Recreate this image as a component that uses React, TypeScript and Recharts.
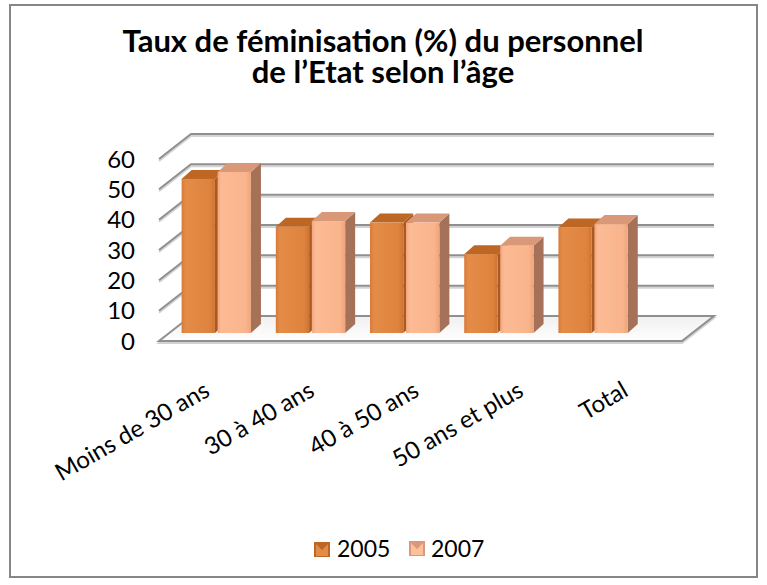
import React from 'react';
import { BarChart, Bar, XAxis, YAxis, CartesianGrid } from 'recharts';

const categories = ['Moins de 30 ans', '30 à 40 ans', '40 à 50 ans', '50 ans et plus', 'Total'];
const values2005 = [50.8, 35.0, 36.4, 26.0, 34.8];
const values2007 = [53.1, 36.9, 36.4, 28.8, 35.9];
const yTicks = [0, 10, 20, 30, 40, 50, 60];
const seriesNames = ['2005', '2007'];

const data = categories.map((cat, i) => ({
  cat,
  y2005: values2005[i],
  y2007: values2007[i],
}));

// layout of the "front plane" of the 3D box
const W = 767;
const H = 585;
const PLOT_LEFT = 159;
const PLOT_TOP = 159;
const PLOT_RIGHT = 682;
const PLOT_BOTTOM = 341;
const Y_AXIS_W = 40;
const X_AXIS_H = 30;

// depth offsets
const WALL_DX = 32;
const WALL_DY = -25;
const BAR_DX = 10;
const BAR_DY = -8;
const TOP_DX = 10;
const TOP_DY = -9;
const SQUEEZE = 0.9006;

const FONT = 'Lato, "Open Sans", sans-serif';

const colors = {
  y2005: { front: '#DE833E', light: '#E38C48', top: '#BE6624', side: '#A85A22' },
  y2007: { front: '#F9B48B', light: '#FCC09C', top: '#D99877', side: '#A57159' },
};

function makeShape(key: 'y2005' | 'y2007') {
  const c = colors[key];
  return (props: any) => {
    const { x, y, width, height } = props;
    if (width == null || height == null) return <g />;
    const fx = PLOT_LEFT + (x - PLOT_LEFT) * SQUEEZE + BAR_DX;
    const fw = width * SQUEEZE;
    const top = y + BAR_DY;
    const bottom = y + height + BAR_DY;
    return (
      <g>
        <polygon
          points={`${fx + fw},${top} ${fx + fw + TOP_DX},${top + TOP_DY} ${fx + fw + TOP_DX},${bottom + TOP_DY} ${fx + fw},${bottom}`}
          fill={c.side}
        />
        <polygon
          points={`${fx},${top} ${fx + fw},${top} ${fx + fw + TOP_DX},${top + TOP_DY} ${fx + TOP_DX},${top + TOP_DY}`}
          fill={c.top}
        />
        <rect x={fx} y={top} width={fw} height={bottom - top} fill={`url(#grad-${key})`} />
      </g>
    );
  };
}

function GridLine(p: any) {
  const { x1, y1, x2, y, height, index } = p;
  const isFloor = Math.abs(y1 - (y + height)) < 1;
  if (isFloor) {
    return (
      <g key={`g-${index}`}>
        <polygon
          points={`${x1},${y1 + 2} ${x2},${y1 + 2} ${x2 + WALL_DX},${y1 + WALL_DY + 2} ${x1 + WALL_DX},${y1 + WALL_DY + 2}`}
          fill="none"
          stroke="#d2d2d2"
          strokeWidth={2}
        />
        <polygon
          points={`${x1},${y1} ${x2},${y1} ${x2 + WALL_DX},${y1 + WALL_DY} ${x1 + WALL_DX},${y1 + WALL_DY}`}
          fill="url(#floorGrad)"
          stroke="#8f8f8f"
          strokeWidth={2}
        />
      </g>
    );
  }
  const path = `M${x1},${y1} L${x1 + WALL_DX},${y1 + WALL_DY} L${x2 + WALL_DX},${y1 + WALL_DY}`;
  return (
    <g key={`g-${index}`}>
      <path d={path} transform="translate(0,2)" fill="none" stroke="#d4d4d4" strokeWidth={2} />
      <path d={path} fill="none" stroke="#8f8f8f" strokeWidth={2} />
    </g>
  );
}

function CategoryTick(props: any) {
  const { x, payload } = props;
  const tx = x;
  const ty = PLOT_BOTTOM + 54;
  return (
    <text
      x={tx}
      y={ty}
      transform={`rotate(-30, ${tx}, ${ty})`}
      textAnchor="end"
      fontFamily={FONT}
      fontSize={24}
      fill="#000"
    >
      {payload.value}
    </text>
  );
}

function LegendIcon({ x, y, c }: { x: number; y: number; c: typeof colors.y2005 }) {
  return (
    <g>
      <rect x={x} y={y} width={16} height={15} fill={c.top} />
      <polygon points={`${x + 2},${y + 2} ${x + 8},${y + 8} ${x + 14},${y + 2} ${x + 14},${y + 14} ${x + 2},${y + 14}`} fill={c.light} />
    </g>
  );
}

export default function App() {
  return (
    <div style={{ position: 'absolute', left: 0, top: 0, width: W, height: H, background: '#fff' }}>
      <BarChart
        width={W}
        height={H}
        data={data}
        barSize={37}
        barGap={3}
        margin={{
          top: PLOT_TOP,
          right: W - PLOT_RIGHT,
          bottom: H - PLOT_BOTTOM - X_AXIS_H,
          left: PLOT_LEFT - Y_AXIS_W,
        }}
      >
        <defs>
          <linearGradient id="grad-y2005" x1="0" y1="0" x2="1" y2="0">
            <stop offset="0%" stopColor="#D9793A" />
            <stop offset="12%" stopColor="#E38C48" />
            <stop offset="85%" stopColor="#DE833E" />
            <stop offset="100%" stopColor="#CF7334" />
          </linearGradient>
          <linearGradient id="grad-y2007" x1="0" y1="0" x2="1" y2="0">
            <stop offset="0%" stopColor="#F2A880" />
            <stop offset="12%" stopColor="#FCBB95" />
            <stop offset="85%" stopColor="#F9B48B" />
            <stop offset="100%" stopColor="#EDA47D" />
          </linearGradient>
          <linearGradient id="floorGrad" x1="0" y1="1" x2="0" y2="0">
            <stop offset="0%" stopColor="#ffffff" />
            <stop offset="100%" stopColor="#f0f0f0" />
          </linearGradient>
        </defs>
        <CartesianGrid vertical={false} horizontal={GridLine as any} />
        <XAxis
          dataKey="cat"
          height={X_AXIS_H}
          tickLine={false}
          axisLine={false}
          interval={0}
          tick={<CategoryTick />}
        />
        <YAxis
          width={Y_AXIS_W}
          domain={[0, 60]}
          ticks={yTicks}
          interval={0}
          tickLine={false}
          axisLine={false}
          tickSize={0}
          tickMargin={24}
          tick={{ fontFamily: FONT, fontSize: 24, fill: '#000' }}
        />
        <Bar dataKey="y2005" name={seriesNames[0]} fill={colors.y2005.front} shape={makeShape('y2005')} isAnimationActive={false} />
        <Bar dataKey="y2007" name={seriesNames[1]} fill={colors.y2007.front} shape={makeShape('y2007')} isAnimationActive={false} />
      </BarChart>
      <svg width={W} height={H} style={{ position: 'absolute', left: 0, top: 0, pointerEvents: 'none' }}>
        <rect x={10} y={5} width={747} height={572} fill="none" stroke="#868686" strokeWidth={2} />
        <text x={383} y={52} textAnchor="middle" fontFamily={FONT} fontWeight={700} fontSize={31} fill="#000">
          Taux de féminisation (%) du personnel
        </text>
        <text x={383} y={83} textAnchor="middle" fontFamily={FONT} fontWeight={700} fontSize={31} fill="#000">
          de l’Etat selon l’âge
        </text>
        <LegendIcon x={314} y={542} c={colors.y2005} />
        <text x={337} y={557} fontFamily={FONT} fontSize={23} fill="#000">{seriesNames[0]}</text>
        <LegendIcon x={409} y={541} c={colors.y2007} />
        <text x={431} y={557} fontFamily={FONT} fontSize={23} fill="#000">{seriesNames[1]}</text>
      </svg>
    </div>
  );
}
